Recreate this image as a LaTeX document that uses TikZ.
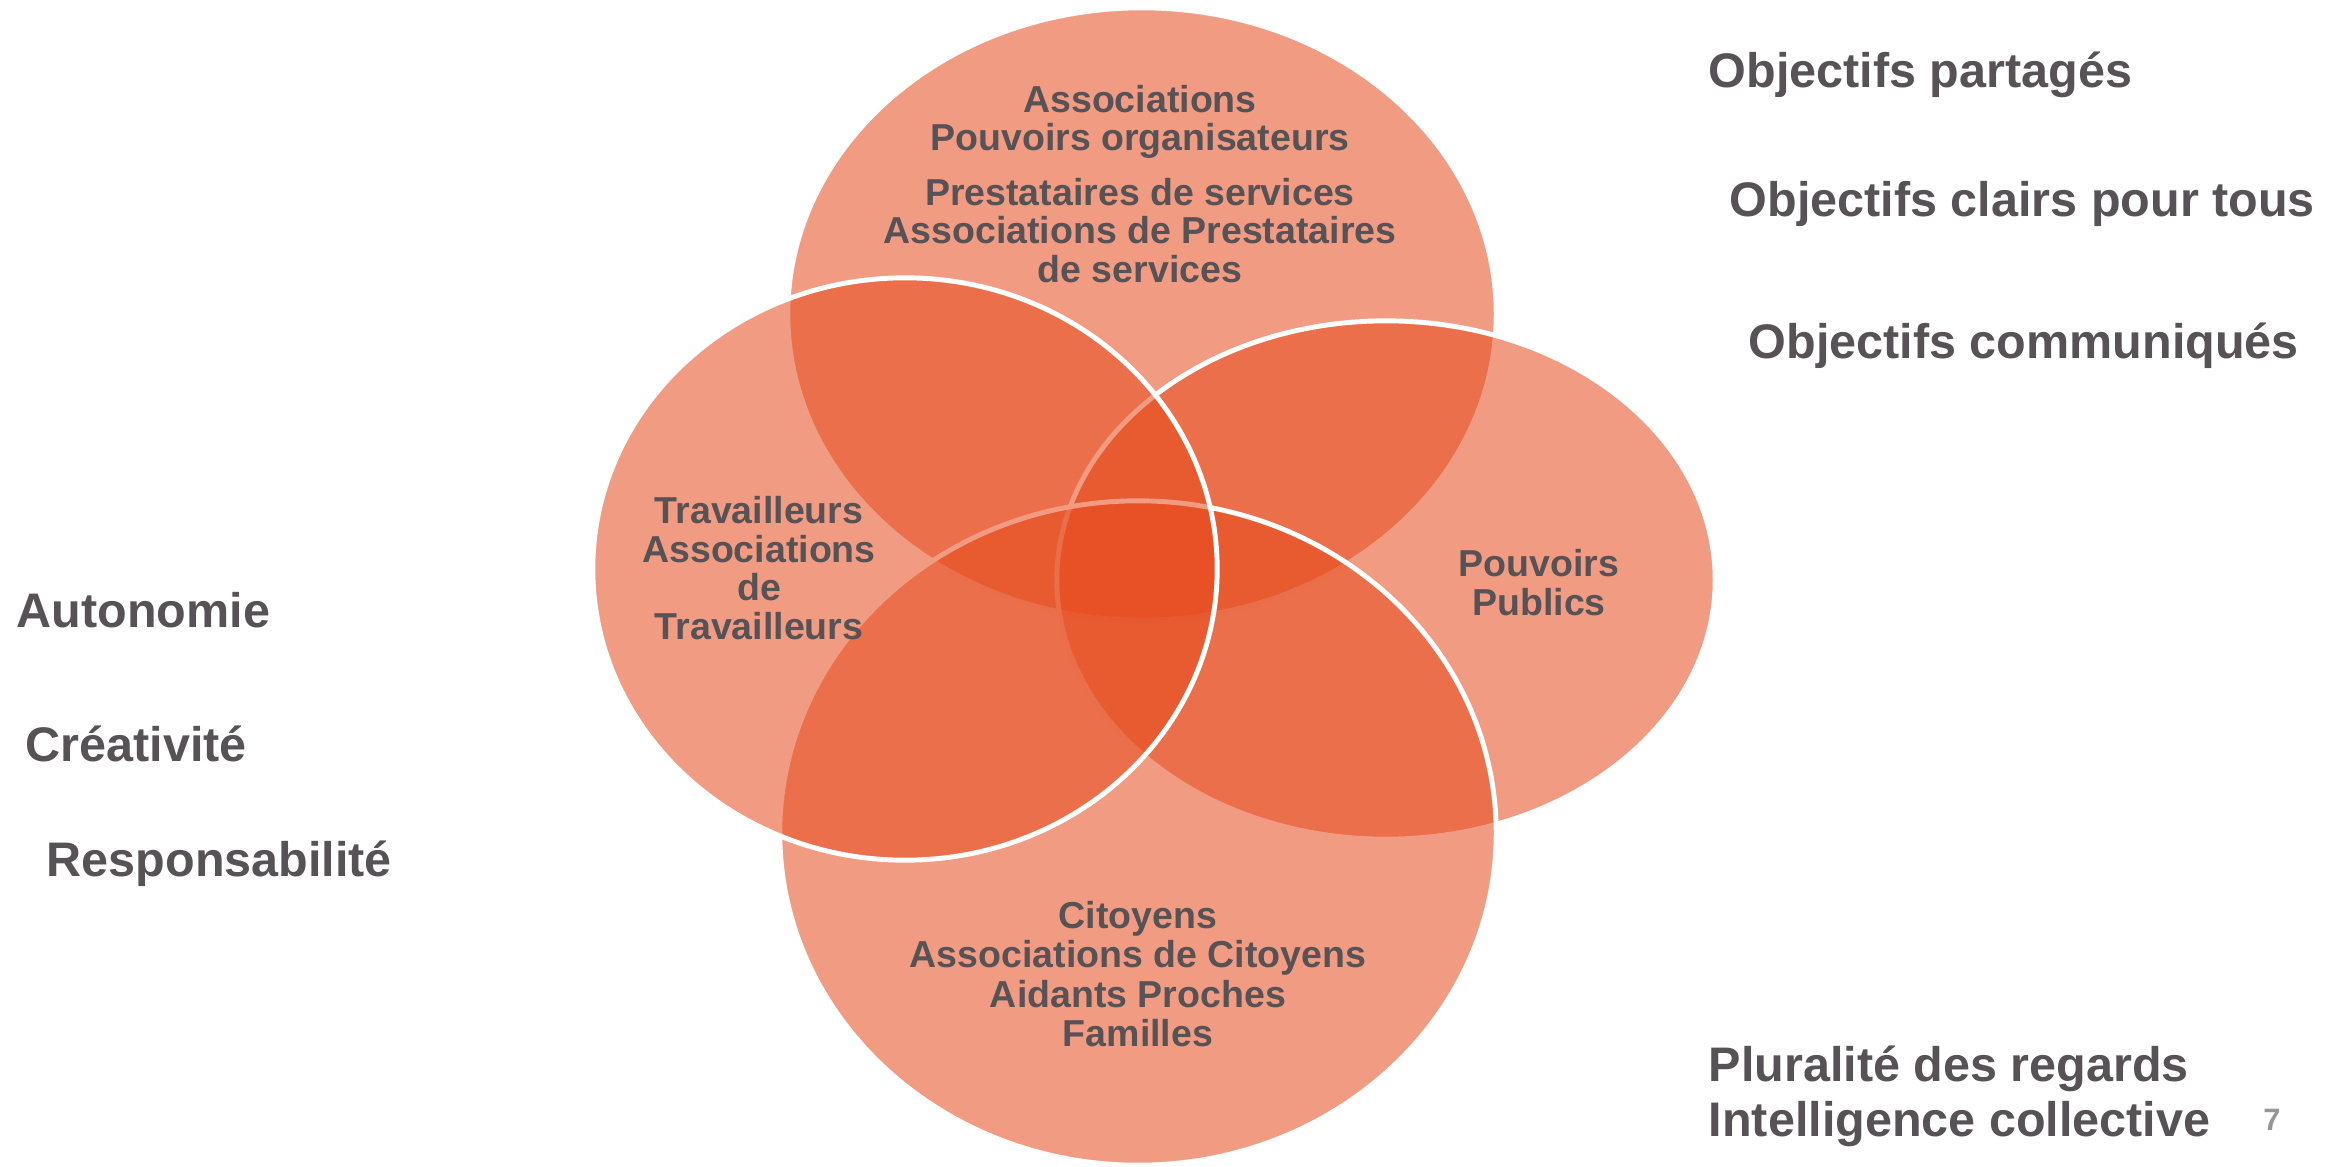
\documentclass[tikz,border=0pt]{standalone}
\usepackage{fontspec}
\setmainfont{Liberation Sans}
\definecolor{vorange}{RGB}{230,74,28}
\definecolor{txt}{RGB}{87,82,85}
\definecolor{pagenum}{RGB}{150,150,150}
\begin{document}
\begin{tikzpicture}[x=0.01cm,y=-0.01cm,
  venn/.style={fill=vorange, fill opacity=0.55, draw=white, draw opacity=1, line width=1.4pt},
  inner/.style={text=txt, font=\fontsize{10.67pt}{10.95pt}\selectfont\bfseries, align=center, anchor=base, inner sep=0pt},
  outer/.style={text=txt, font=\fontsize{13.8pt}{15.65pt}\selectfont\bfseries, align=left, anchor=base west, inner sep=0pt}]
\useasboundingbox (0,0) rectangle (2343,1167);
% ellipses, in drawing order
\path[venn] (1142,314) ellipse [x radius=3.54cm, y radius=3.06cm];
\path[venn] (1386,580) ellipse [x radius=3.29cm, y radius=2.59cm];
\path[venn] (1138,833) ellipse [x radius=3.58cm, y radius=3.32cm];
\path[venn] (905,569) ellipse [x radius=3.12cm, y radius=2.91cm];
% texts inside (anchor = baseline of the last line)
\node[inner] (orgA) at (1140,151) {Associations\\Pouvoirs organisateurs};
\node[inner, font=\fontsize{10.67pt}{10.95pt}\selectfont\bfseries] (orgB) at (1140,282.5) {Prestataires de services\\Associations de Prestataires\\de services};
\node[inner] (trav) at (759,639.5) {Travailleurs\\Associations\\de\\Travailleurs};
\node[inner, font=\fontsize{10.67pt}{11.1pt}\selectfont\bfseries] (pub) at (1539,615.5) {Pouvoirs\\Publics};
\node[inner, font=\fontsize{10.67pt}{11.2pt}\selectfont\bfseries] (cit) at (1138,1046.5) {Citoyens\\Associations de Citoyens\\Aidants Proches\\Familles};
% texts outside
\node[outer] (obj1) at (1708,87.5) {Objectifs partagés};
\node[outer] (obj2) at (1729,216.5) {Objectifs clairs pour tous};
\node[outer] (obj3) at (1748,358.5) {Objectifs communiqués};
\node[outer] (auto) at (16,627.5) {Autonomie};
\node[outer] (crea) at (25,761.5) {Créativité};
\node[outer] (resp) at (46,876.5) {Responsabilité};
\node[outer] (plur) at (1708,1136.5) {Pluralité des regards\\Intelligence collective};
\node[text=pagenum, font=\fontsize{8.8pt}{10pt}\selectfont\bfseries, anchor=base, inner sep=0pt] (num) at (2272,1130) {7};
\end{tikzpicture}
\end{document}
